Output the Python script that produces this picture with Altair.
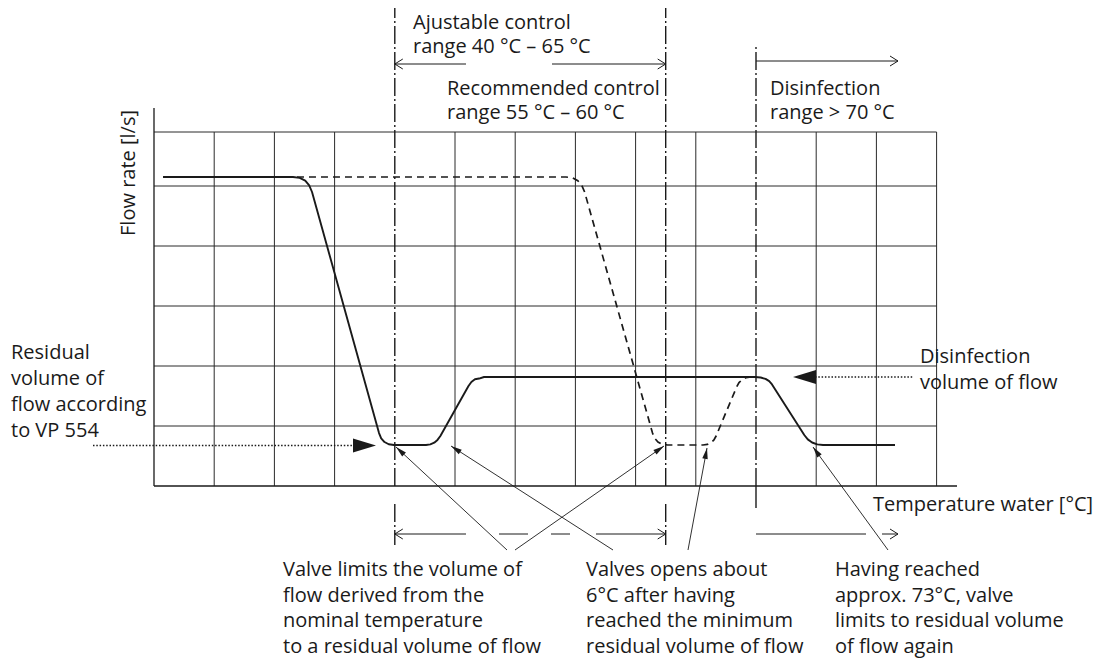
import math
import altair as alt
import pandas as pd

# ---------------- data (grid units: one grid column / one grid row = 1) ----------------
# solid curve: valve flow vs. temperature
solid_x = [0.150, 2.309, 2.420, 2.512, 2.578, 2.625, 3.738, 3.774, 3.829, 3.899, 3.987,
           4.518, 4.590, 4.655, 4.709, 4.757, 5.224, 5.272, 5.331, 5.400, 5.482,
           9.983, 10.078, 10.158, 10.219, 10.266, 10.802, 10.860, 10.932, 11.017, 11.113, 12.309]
solid_y = [5.150, 5.150, 5.135, 5.088, 5.010, 4.900, 0.883, 0.795, 0.733, 0.696, 0.683,
           0.683, 0.693, 0.721, 0.768, 0.833, 1.667, 1.733, 1.779, 1.791, 1.817,
           1.817, 1.808, 1.785, 1.747, 1.692, 0.850, 0.777, 0.725, 0.693, 0.683, 0.683]
# dashed curve: higher set temperature
dash_x = [2.375, 6.844, 6.952, 7.040, 7.106, 7.153, 8.281, 8.317, 8.372, 8.444, 8.530,
          9.120, 9.191, 9.252, 9.301, 9.337, 9.678, 9.718, 9.772, 9.837, 9.917]
dash_y = [5.150, 5.150, 5.135, 5.088, 5.010, 4.900, 0.883, 0.796, 0.733, 0.696, 0.683,
          0.683, 0.693, 0.721, 0.768, 0.833, 1.650, 1.723, 1.775, 1.807, 1.817]

grid_cols = 13          # number of grid columns
grid_rows = [1, 2, 3, 4, 5]
grid_top = 5.9
dashdot_cols = [4, 8.5, 10]

top_texts = [("Ajustable control", "range 40 °C – 65 °C"),
             ("Recommended control", "range 55 °C – 60 °C"),
             ("Disinfection", "range > 70 °C")]
left_text = ["Residual", "volume of", "flow according", "to VP 554"]
right_text = ["Disinfection", "volume of flow"]
bottom_texts = [["Valve limits the volume of", "flow derived from the",
                 "nominal temperature", "to a residual volume of flow"],
                ["Valves opens about", "6°C after having",
                 "reached the minimum", "residual volume of flow"],
                ["Having reached", "approx. 73°C, valve",
                 "limits to residual volume", "of flow again"]]
y_title = "Flow rate [l/s]"
x_title = "Temperature water [°C]"

# ---------------- layout (page pixels -> grid units) ----------------
X0, SX = 154.0, 60.2
Y0, SY = 486.0, 60.0
def ux(px): return (px - X0) / SX
def uy(py): return (Y0 - py) / SY

W, H = 1089, 656
xs = alt.Scale(domain=[ux(8), ux(8 + W)], nice=False, zero=False)
ys = alt.Scale(domain=[uy(8 + H), uy(8)], nice=False, zero=False)
INK = "#1a1a1a"
FONT = "Open Sans"


def seg_df(segs):
    return pd.DataFrame(segs, columns=["x", "y", "x2", "y2"])


def rules(segs, **mark):
    return alt.Chart(seg_df(segs)).mark_rule(**mark).encode(
        x=alt.X("x:Q", scale=xs, axis=None),
        x2="x2:Q",
        y=alt.Y("y:Q", scale=ys, axis=None),
        y2="y2:Q",
    )


# grid
grid = []
for c in range(1, grid_cols + 1):
    if c not in dashdot_cols:
        grid.append((c, 0, c, grid_top))
for r in grid_rows:
    grid.append((0, r, grid_cols, r))
grid.append((0, grid_top, grid_cols, grid_top))
grid_layer = rules(grid, color="#2a2a2a", strokeWidth=1)

axes_layer = rules([(0, 0, ux(957), 0), (0, 0, 0, uy(108))], color=INK, strokeWidth=1.3)

# dash-dot range lines
dd = [(4, 0, 4, uy(7)), (8.5, 0, 8.5, uy(7)), (10, 0, 10, uy(46)),
      (4, uy(504), 4, uy(545)), (8.5, uy(504), 8.5, uy(545))]
dd_layer = rules(dd, color=INK, strokeWidth=1.4, strokeDash=[18, 3, 2, 3])
tick10 = rules([(10, 0, 10, uy(508))], color=INK, strokeWidth=1.4)

# dimension lines
dims = [(ux(394.8), uy(64), ux(466), uy(64)), (ux(552), uy(64), ux(665.7), uy(64)),
        (ux(756), uy(61), ux(898), uy(61)),
        (ux(394.8), uy(534), ux(466), uy(534)), (ux(499), uy(534), ux(528), uy(534)),
        (ux(551), uy(534), ux(570), uy(534)), (ux(596), uy(534), ux(665.7), uy(534)),
        (ux(756), uy(534), ux(866), uy(534)), (ux(882), uy(534), ux(898), uy(534))]
chev = []
for (tx, ty, d) in [(394.8, 64, -1), (665.7, 64, 1), (898, 61, 1),
                    (394.8, 534, -1), (665.7, 534, 1), (898, 534, 1)]:
    chev.append((ux(tx - d * 8), uy(ty - 5), ux(tx), uy(ty)))
    chev.append((ux(tx - d * 8), uy(ty + 5), ux(tx), uy(ty)))
dim_layer = rules(dims + chev, color=INK, strokeWidth=1)

# leader lines
leaders_px = [(507, 550, 396, 447), (515, 550, 664, 446), (613, 550, 451, 446),
              (688, 550, 707, 448), (888, 550, 813, 447)]
lead_layer = rules([(ux(a), uy(b), ux(c), uy(d)) for a, b, c, d in leaders_px],
                   color=INK, strokeWidth=0.9)
heads = pd.DataFrame({
    "x": [ux(c) for a, b, c, d in leaders_px],
    "y": [uy(d) for a, b, c, d in leaders_px],
    "angle": [math.degrees(math.atan2(d - b, c - a)) % 360 for a, b, c, d in leaders_px],
})
ARROW = "M0,0 L-1,-0.25 L-1,0.25 Z"
head_layer = alt.Chart(heads).mark_point(shape=ARROW, filled=True, color=INK, opacity=1,
                                         size=484, strokeWidth=0).encode(
    x=alt.X("x:Q", scale=xs, axis=None), y=alt.Y("y:Q", scale=ys, axis=None),
    angle=alt.Angle("angle:Q", scale=None))

# dotted pointer arrows
dotted = rules([(ux(93), uy(445.5), ux(355), uy(445.5)), (ux(815), uy(377), ux(913), uy(377))],
               color=INK, strokeWidth=1.5, strokeDash=[1.5, 1.8])
big = pd.DataFrame({"x": [ux(376), ux(793)], "y": [uy(445.5), uy(377)], "angle": [0, 180]})
BIG = "M0,0 L-1,-0.3 L-1,0.3 Z"
big_layer = alt.Chart(big).mark_point(shape=BIG, filled=True, color=INK, opacity=1,
                                      size=2116, strokeWidth=0).encode(
    x=alt.X("x:Q", scale=xs, axis=None), y=alt.Y("y:Q", scale=ys, axis=None),
    angle=alt.Angle("angle:Q", scale=None))

# curves
solid_df = pd.DataFrame({"x": solid_x, "y": solid_y, "i": range(len(solid_x))})
dash_df = pd.DataFrame({"x": dash_x, "y": dash_y, "i": range(len(dash_x))})
solid_layer = alt.Chart(solid_df).mark_line(color=INK, strokeWidth=1.9, strokeJoin="round").encode(
    x=alt.X("x:Q", scale=xs, axis=None), y=alt.Y("y:Q", scale=ys, axis=None), order="i:Q")
dash_layer = alt.Chart(dash_df).mark_line(color=INK, strokeWidth=1.7, strokeDash=[7, 5]).encode(
    x=alt.X("x:Q", scale=xs, axis=None), y=alt.Y("y:Q", scale=ys, axis=None), order="i:Q")

# texts
rows = []
for (l1, l2), (px, py) in zip(top_texts, [(413, 29), (447, 95), (770, 95)]):
    rows.append((l1, ux(px), uy(py)))
    rows.append((l2, ux(px), uy(py + 24)))
for k, t in enumerate(left_text):
    rows.append((t, ux(11), uy(359 + 26 * k)))
for k, t in enumerate(right_text):
    rows.append((t, ux(920), uy(363 + 26 * k)))
rows.append((x_title, ux(873), uy(511)))
for block, px in zip(bottom_texts, [283, 586, 835]):
    for k, t in enumerate(block):
        rows.append((t, ux(px), uy(576 + 25.6 * k)))
txt = pd.DataFrame(rows, columns=["t", "x", "y"])
text_layer = alt.Chart(txt).mark_text(align="left", baseline="alphabetic", font=FONT,
                                      fontSize=20, color=INK).encode(
    x=alt.X("x:Q", scale=xs, axis=None), y=alt.Y("y:Q", scale=ys, axis=None), text="t:N")
ytitle = alt.Chart(pd.DataFrame({"t": [y_title], "x": [ux(135)], "y": [uy(173)]})).mark_text(
    align="center", baseline="alphabetic", angle=270, font=FONT, fontSize=20, color=INK).encode(
    x=alt.X("x:Q", scale=xs, axis=None), y=alt.Y("y:Q", scale=ys, axis=None), text="t:N")

chart = alt.layer(
    grid_layer, dd_layer, tick10, axes_layer, dim_layer, dotted, lead_layer,
    solid_layer, dash_layer, head_layer, big_layer, text_layer, ytitle,
).properties(
    width=W, height=H, padding=0, autosize=alt.AutoSizeParams(type="none"),
    background="white",
).configure_view(stroke=None)

chart.save("out.html", embed_options={"renderer": "svg", "actions": False})
